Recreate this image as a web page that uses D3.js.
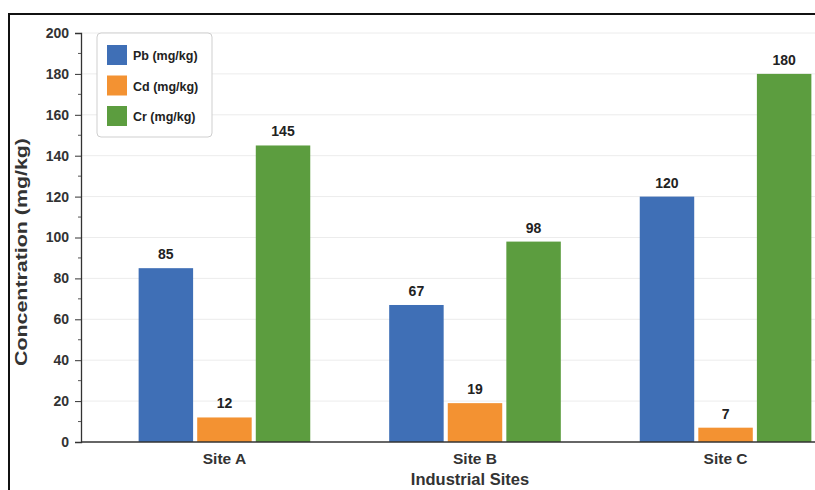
<!DOCTYPE html>
<html>
<head>
<meta charset="utf-8">
<script src="https://cdn.jsdelivr.net/npm/d3@7"></script>
<style>
  body { margin: 0; background: #fff; }
  svg { display: block; font-family: "Liberation Sans", Arial, sans-serif; }
</style>
</head>
<body>
<svg id="chart" width="815" height="490"></svg>
<script>
// data
const sites = ['Site A', 'Site B', 'Site C'];
const metals = ['Pb (mg/kg)', 'Cd (mg/kg)', 'Cr (mg/kg)'];
const pb = [85, 67, 120];
const cd = [12, 19, 7];
const cr = [145, 98, 180];
const yTicks = [0, 20, 40, 60, 80, 100, 120, 140, 160, 180, 200];
const colors = ['#3f6fb6', '#f39232', '#5c9d3f'];

const series = [pb, cd, cr];
const svg = d3.select('#chart');

// plot area (runs past the right edge, the reference is cropped there)
const plotL = 81, plotR = 869, plotT = 33, plotB = 442;

// outer frame
svg.append('rect').attr('x', 9).attr('y', 14).attr('width', 830).attr('height', 500)
  .attr('fill', 'none').attr('stroke', '#111').attr('stroke-width', 2);

const x = d3.scaleBand().domain(sites).range([plotL, plotR]).paddingInner(0.315).paddingOuter(0.23);
const xs = d3.scaleBand().domain(metals).range([0, x.bandwidth()]).paddingInner(0.07);
const y = d3.scaleLinear().domain([0, 200]).range([plotB, plotT]);

// grid
svg.append('g').selectAll('line').data(yTicks.slice(1)).join('line')
  .attr('x1', plotL).attr('x2', 815).attr('y1', d => y(d)).attr('y2', d => y(d))
  .attr('stroke', '#ececec').attr('stroke-width', 1);

// bars
const groups = svg.append('g').selectAll('g').data(sites).join('g')
  .attr('transform', d => `translate(${x(d)},0)`);

const cells = (d, i) => series.map((s, k) => ({ m: metals[k], v: s[i], k }));

groups.selectAll('rect').data(cells).join('rect')
  .attr('x', d => xs(d.m)).attr('width', xs.bandwidth())
  .attr('y', d => y(d.v)).attr('height', d => y(0) - y(d.v))
  .attr('fill', d => colors[d.k]);

groups.selectAll('text').data(cells).join('text')
  .attr('x', d => xs(d.m) + xs.bandwidth() / 2).attr('y', d => y(d.v) - 9)
  .attr('text-anchor', 'middle').attr('font-size', 14).attr('font-weight', 'bold').attr('fill', '#222')
  .text(d => d.v);

// y axis
const yAxis = svg.append('g').attr('transform', `translate(${plotL},0)`)
  .call(d3.axisLeft(y).tickValues(yTicks).tickSize(6).tickPadding(6));
yAxis.attr('font-size', 14);
yAxis.select('.domain').attr('stroke', '#333').attr('stroke-width', 1.3);
yAxis.selectAll('.tick line').attr('stroke', '#333');
yAxis.selectAll('text').attr('font-weight', 'bold').attr('fill', '#333')
  .attr('font-family', '"Liberation Sans", Arial, sans-serif');
// minor ticks
svg.append('g').selectAll('line').data(d3.range(10, 200, 20)).join('line')
  .attr('x1', plotL - 3).attr('x2', plotL).attr('y1', d => y(d)).attr('y2', d => y(d))
  .attr('stroke', '#555');

// x axis
svg.append('line').attr('x1', plotL).attr('x2', 815).attr('y1', plotB).attr('y2', plotB)
  .attr('stroke', '#333').attr('stroke-width', 1.3);
svg.append('g').selectAll('text').data(sites).join('text')
  .attr('x', d => x(d) + x.bandwidth() / 2).attr('y', plotB + 22)
  .attr('text-anchor', 'middle').attr('font-size', 15.5).attr('font-weight', 'bold').attr('fill', '#333')
  .text(d => d);

// axis titles
svg.append('text').attr('transform', 'translate(27,252) rotate(-90)')
  .attr('text-anchor', 'middle').attr('font-size', 16).attr('font-weight', 'bold').attr('fill', '#333')
  .attr('textLength', 228).attr('lengthAdjust', 'spacingAndGlyphs')
  .text('Concentration (mg/kg)');
svg.append('text').attr('x', 470).attr('y', 485)
  .attr('text-anchor', 'middle').attr('font-size', 16.5).attr('font-weight', 'bold').attr('fill', '#333')
  .text('Industrial Sites');

// legend
const lg = svg.append('g').attr('transform', 'translate(97,33)');
lg.append('rect').attr('width', 115).attr('height', 104).attr('rx', 4)
  .attr('fill', '#fff').attr('stroke', '#cfcfcf');
const li = lg.selectAll('g').data(metals).join('g')
  .attr('transform', (d, i) => `translate(10,${12 + i * 30.5})`);
li.append('rect').attr('width', 20).attr('height', 20).attr('fill', (d, i) => colors[i]);
li.append('text').attr('x', 26).attr('y', 15).attr('font-size', 12.5).attr('fill', '#222')
  .attr('font-weight', 'bold').text(d => d);
</script>
</body>
</html>
